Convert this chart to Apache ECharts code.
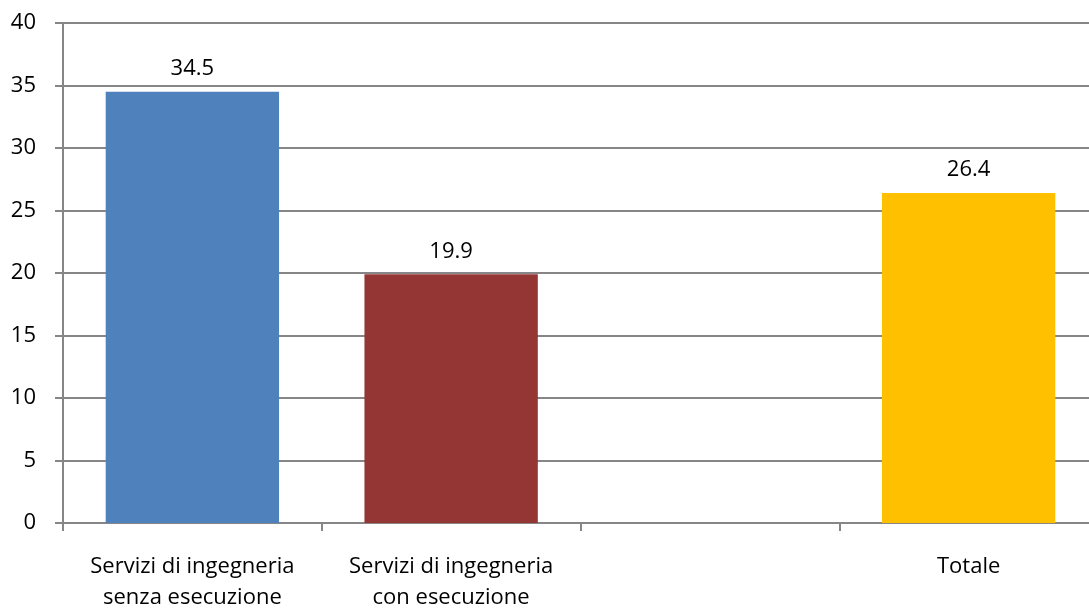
<!DOCTYPE html>
<html>
<head>
<meta charset="utf-8">
<script src="https://cdn.jsdelivr.net/npm/echarts@6/dist/echarts.min.js"></script>
<style>
  html, body { margin: 0; padding: 0; background: #fff; }
  #chart { width: 1089px; height: 611px; }
</style>
</head>
<body>
<div id="chart"></div>
<script>
const categories = ['Servizi di ingegneria\nsenza esecuzione', 'Servizi di ingegneria\ncon esecuzione', '', 'Totale'];
const values = [34.5, 19.9, null, 26.4];
const barColors = ['#4F81BD', '#943634', '#FFFFFF', '#FFC000'];

const myChart = echarts.init(document.getElementById('chart'));
const font = '"Open Sans", "Liberation Sans", sans-serif';

myChart.setOption({
  animation: false,
  grid: { left: 63, right: -9, top: 23, bottom: 88, containLabel: false, outerBoundsMode: 'none' },
  xAxis: {
    type: 'category',
    data: categories,
    axisLine: { lineStyle: { color: '#868686', width: 2 } },
    axisTick: { show: true, interval: 0, length: 8, lineStyle: { color: '#868686', width: 2 } },
    axisLabel: { interval: 0, hideOverlap: false, color: '#000', fontSize: 22, fontFamily: font, lineHeight: 31, margin: 28 }
  },
  yAxis: {
    type: 'value',
    min: 0,
    max: 40,
    interval: 5,
    axisLine: { show: true, lineStyle: { color: '#868686', width: 2 } },
    axisTick: { show: true, length: 8, lineStyle: { color: '#868686', width: 2 } },
    axisLabel: { color: '#000', fontSize: 22, fontFamily: font, margin: 27 },
    splitLine: { lineStyle: { color: '#868686', width: 2 } }
  },
  series: [{
    type: 'bar',
    data: values.map((v, i) => ({ value: v, itemStyle: { color: barColors[i] } })),
    barCategoryGap: '33%',
    label: {
      show: true,
      position: 'top',
      distance: 12,
      color: '#000',
      fontSize: 22,
      fontFamily: font,
      formatter: p => p.value == null ? '' : p.value.toFixed(1)
    }
  }]
});
</script>
</body>
</html>
